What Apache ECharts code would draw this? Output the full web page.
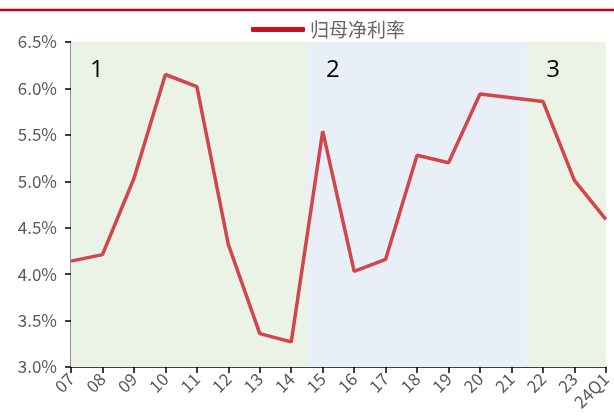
<!DOCTYPE html>
<html><head><meta charset="utf-8">
<script src="https://cdn.jsdelivr.net/npm/echarts@6/dist/echarts.min.js"></script>
<style>html,body{margin:0;padding:0;background:#fff}#c{width:614px;height:419px}</style>
</head><body><div id="c"></div>
<script>
const categories = ['07','08','09','10','11','12','13','14','15','16','17','18','19','20','21','22','23','24Q1'];
const netMargin = [4.14,4.21,5.03,6.15,6.02,4.32,3.36,3.27,5.54,4.03,4.16,5.28,5.20,5.94,5.90,5.86,5.01,4.59];
const seriesName = '归母净利率';
const phaseLabels = ['1','2','3'];
const phaseBounds = [[0,7.5],[7.5,14.5],[14.5,17]];
const phaseColors = ['#EBF3E6','#E8EFF7','#EBF3E6'];
const yTicks = {min:3.0, max:6.5, interval:0.5};

const chart = echarts.init(document.getElementById('c'));
const labelFont = "'Noto Sans CJK SC', sans-serif";
chart.setOption({
  animation:false,
  graphic:[{type:'line',shape:{x1:0,y1:10,x2:614,y2:10},style:{stroke:'#C0001E',lineWidth:2.5},z:10}],
  legend:{top:15,left:246,itemWidth:54,itemHeight:5,itemGap:6,
    textStyle:{color:'#666',fontSize:19,fontFamily:labelFont},
    data:[{name:seriesName,icon:'roundRect',itemStyle:{color:'#C8101E'}}]},
  grid:{left:71,right:4,top:42,bottom:52,containLabel:false},
  xAxis:[{type:'category',data:categories,boundaryGap:false,
    axisLine:{lineStyle:{color:'#000',width:1.5}},
    axisTick:{show:true,alignWithLabel:true,length:6,lineStyle:{color:'#000',width:1.5}},
    axisLabel:{rotate:45,color:'#595959',fontSize:17,fontFamily:labelFont,margin:9,interval:0},
    splitLine:{show:false}},
    {type:'value',min:0,max:categories.length-1,show:false}],
  yAxis:{type:'value',min:yTicks.min,max:yTicks.max,interval:yTicks.interval,
    axisLine:{show:true,lineStyle:{color:'#6b6b6b',width:1.5}},
    axisTick:{show:true,inside:false,length:6,lineStyle:{color:'#000',width:1.5}},
    splitLine:{show:false},
    axisLabel:{color:'#595959',fontSize:17,fontFamily:labelFont,margin:14,
      formatter:v=>v.toFixed(1)+'%'}},
  series:[
    {type:'line',name:'bands',xAxisIndex:1,data:[],silent:true,
      markArea:{silent:true,
        data:phaseBounds.map((b,i)=>[
          {xAxis:b[0],itemStyle:{color:phaseColors[i]},
           label:{show:true,formatter:phaseLabels[i],position:[19,16],color:'#000',fontSize:24,fontFamily:"'Open Sans', sans-serif"}},
          {xAxis:b[1]}])}},
    {type:'line',name:seriesName,data:netMargin,symbol:'none',z:5,
      lineStyle:{color:'#D0464B',width:3.5},itemStyle:{color:'#D0464B'}}
  ]
});
</script></body></html>
